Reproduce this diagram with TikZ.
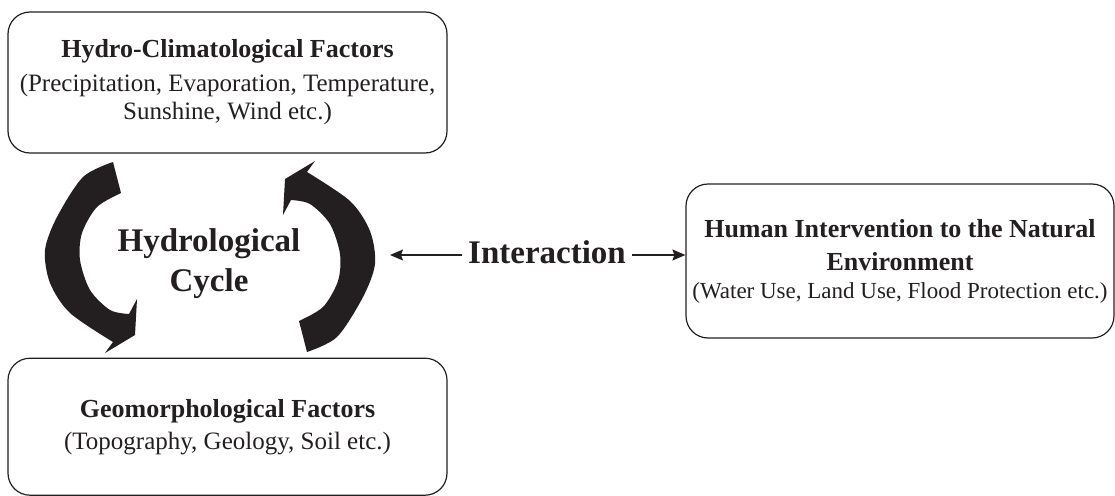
\documentclass[tikz,border=0pt]{standalone}
\usepackage{fontspec}
\setmainfont{Liberation Serif}
\usetikzlibrary{arrows.meta, positioning}
\definecolor{ink}{RGB}{35,31,32}
\newcommand{\boxtitle}[1]{{\fontsize{26}{32}\selectfont\bfseries #1}}

\begin{document}
\begin{tikzpicture}[
  x=1pt, y=-1pt,
  node distance=204pt,
  box/.style={draw=ink, line width=1.2pt, rounded corners=22pt, align=center, minimum width=439pt, inner sep=0pt, text=ink, font=\fontsize{25}{28}\selectfont},
  big/.style={align=center, text=ink, font=\fontsize{33}{40}\selectfont\bfseries},
  arrow/.style={-{Stealth[length=13pt,width=11pt,inset=2pt]}, line width=1.2pt, draw=ink}
]
\useasboundingbox (0,0) rectangle (1115,495);

% Nodes
\node (hydro) [box, minimum height=141pt] at (227.5,82.5) {
    \boxtitle{Hydro-Climatological Factors}\\[6pt]
    (Precipitation, Evaporation, Temperature,\\
    Sunshine, Wind etc.)
};

\node (geo) [box, minimum height=137pt, below=of hydro] {
    \boxtitle{Geomorphological Factors}\\[4pt]
    (Topography, Geology, Soil etc.)
};

\node (human) [box, minimum width=428pt, minimum height=154pt] at (900,261) {
    \boxtitle{Human Intervention to the Natural}\\[5pt]
    \boxtitle{Environment}\\
    {\fontsize{23}{28}\selectfont (Water Use, Land Use, Flood Protection etc.)}
};

\node (cycle) [big] at (209,264) {Hydrological\\Cycle};
\node (inter) [big, inner sep=6pt] at (547,252) {Interaction};
\coordinate (lend) at (390,255);

% Cycle arrows
\foreach \ang in {0,180} {
  \fill[ink, rotate around={\ang:(210,257)}]
    plot[smooth] coordinates {(113,162) (83,177) (57,217) (45,250) (50,283) (70,313) (113,342)}
    -- (105,353) -- (135,335) -- (137,299) -- (129,314)
    -- plot[smooth] coordinates {(129,314) (110,310) (90,290) (80,260) (82,233) (97,207) (121,193)}
    -- cycle;
}

% Arrows
\draw [arrow] (inter.west |- lend) -- (lend);
\draw [arrow] (inter.east |- lend) -- (human.west |- lend);

\end{tikzpicture}
\end{document}
